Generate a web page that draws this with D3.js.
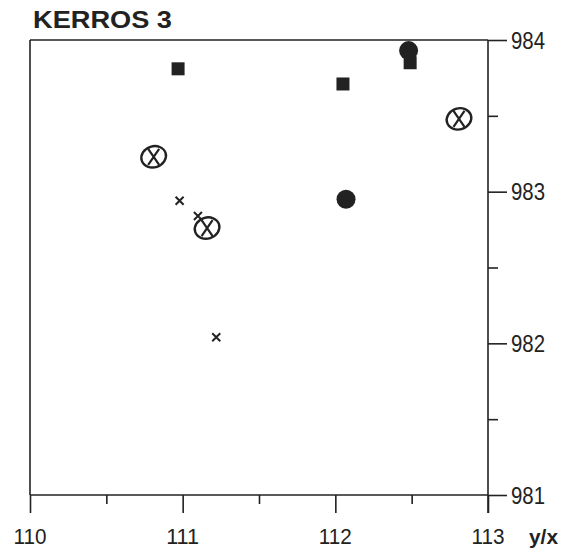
<!DOCTYPE html>
<html>
<head>
<meta charset="utf-8">
<script src="https://cdn.jsdelivr.net/npm/d3@7"></script>
<style>
  body { margin: 0; background: #fff; }
  text { font-family: "Liberation Sans", Arial, sans-serif; fill: #222; }
</style>
</head>
<body>
<div id="vis"></div>
<script>
var width = 571,
    height = 555;

// data
var squares = [[110.97, 983.81], [112.05, 983.71], [112.49, 983.85]];
var circles = [[112.48, 983.93], [112.07, 982.95]];
var circledX = [[110.81, 983.23], [111.16, 982.76], [112.81, 983.48]];
var crosses = [[110.98, 982.94], [111.10, 982.84], [111.22, 982.04]];
var xTicks = [110, 111, 112, 113];
var yTicks = [981, 982, 983, 984];

var svg = d3.select('#vis').append('svg')
    .attr("width", width)
    .attr("height", height);

var x = d3.scaleLinear().domain([110, 113]).range([30, 488]);
var y = d3.scaleLinear().domain([981, 984]).range([495, 40]);

var ink = "#222";

// frame: top and left
svg.append("line").attr("x1", x(110)).attr("x2", x(113)).attr("y1", y(984)).attr("y2", y(984))
    .attr("stroke", ink).attr("stroke-width", 1.6);
svg.append("line").attr("x1", x(110)).attr("x2", x(110)).attr("y1", y(984)).attr("y2", y(981))
    .attr("stroke", ink).attr("stroke-width", 1.6);

// bottom axis
var xAxis = svg.append("g").attr("transform", "translate(0," + y(981) + ")");
xAxis.call(d3.axisBottom(x).tickValues(d3.range(110, 113.01, 0.5)).tickSize(10).tickFormat(""));
xAxis.selectAll(".tick line").attr("y2", function(d) { return d % 1 === 0 ? 18 : 9; });
xAxis.selectAll(".tick line, .domain").attr("stroke", ink).attr("stroke-width", 1.6);
xAxis.select(".domain").attr("d", "M" + x(110) + ",0H" + x(113));
svg.selectAll("text.xl").data(xTicks).enter().append("text")
    .attr("class", "xl")
    .attr("x", function(d) { return x(d); })
    .attr("y", 544)
    .attr("text-anchor", "middle")
    .attr("textLength", 33).attr("lengthAdjust", "spacingAndGlyphs")
    .style("font-size", "22px")
    .text(function(d) { return d; });
svg.append("text").attr("x", 529).attr("y", 544)
    .attr("textLength", 29).attr("lengthAdjust", "spacingAndGlyphs")
    .style("font-size", "21px").style("font-weight", "bold").text("y/x");

// right axis
var yAxis = svg.append("g").attr("transform", "translate(" + x(113) + ",0)");
yAxis.call(d3.axisRight(y).tickValues(d3.range(981, 984.01, 0.5)).tickSize(10).tickFormat(""));
yAxis.selectAll(".tick line").attr("x2", function(d) { return d % 1 === 0 ? 19 : 10; });
yAxis.selectAll(".tick line, .domain").attr("stroke", ink).attr("stroke-width", 1.6);
yAxis.select(".domain").attr("d", "M0," + y(984) + "V" + (y(981) + 18));
svg.selectAll("text.yl").data(yTicks).enter().append("text")
    .attr("class", "yl")
    .attr("x", x(113) + 23)
    .attr("y", function(d) { return y(d) + 8.5; })
    .attr("textLength", 34).attr("lengthAdjust", "spacingAndGlyphs")
    .style("font-size", "23px")
    .text(function(d) { return d; });

// title
svg.append("text").attr("x", 33).attr("y", 28)
    .attr("textLength", 139).attr("lengthAdjust", "spacingAndGlyphs")
    .style("font-size", "23px").style("font-weight", "bold").text("KERROS 3");

// markers
svg.selectAll("rect.sq").data(squares).enter().append("rect")
    .attr("class", "sq")
    .attr("x", function(d) { return x(d[0]) - 6.5; })
    .attr("y", function(d) { return y(d[1]) - 6.5; })
    .attr("width", 13).attr("height", 13)
    .attr("fill", ink);

svg.selectAll("circle.dot").data(circles).enter().append("circle")
    .attr("class", "dot")
    .attr("cx", function(d) { return x(d[0]); })
    .attr("cy", function(d) { return y(d[1]); })
    .attr("r", 9.5)
    .attr("fill", ink);

var cx = svg.selectAll("g.cx").data(circledX).enter().append("g")
    .attr("class", "cx")
    .attr("transform", function(d) { return "translate(" + x(d[0]) + "," + y(d[1]) + ")"; });
cx.append("ellipse").attr("rx", 12.5).attr("ry", 10.5).attr("transform", "rotate(-18)")
    .attr("fill", "none").attr("stroke", ink).attr("stroke-width", 2.4);
cx.append("path").attr("d", "M-5.5,-8L5.5,8M5.5,-8L-5.5,8")
    .attr("fill", "none").attr("stroke", ink).attr("stroke-width", 2.2);

svg.selectAll("path.cr").data(crosses).enter().append("path")
    .attr("class", "cr")
    .attr("transform", function(d) { return "translate(" + x(d[0]) + "," + y(d[1]) + ")"; })
    .attr("d", "M-4,-4L4,4M4,-4L-4,4")
    .attr("stroke", ink).attr("stroke-width", 2);
</script>
</body>
</html>
